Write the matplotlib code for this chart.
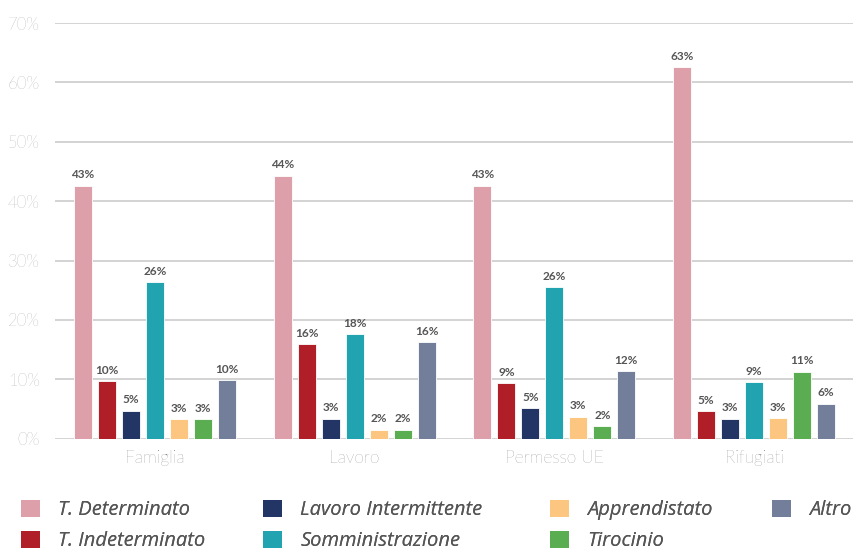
import matplotlib
matplotlib.use("Agg")
import matplotlib.pyplot as plt
import numpy as np
from matplotlib.patches import Patch

categories = ["Famiglia", "Lavoro", "Permesso UE", "Rifugiati"]
series = ["T. Determinato", "T. Indeterminato", "Lavoro Intermittente",
          "Somministrazione", "Apprendistato", "Tirocinio", "Altro"]
t_determinato = [42.6, 44.3, 42.6, 62.6]
t_indeterminato = [9.7, 15.9, 9.4, 4.6]
lavoro_intermittente = [4.7, 3.4, 5.1, 3.4]
somministrazione = [26.4, 17.6, 25.5, 9.5]
apprendistato = [3.3, 1.5, 3.7, 3.5]
tirocinio = [3.3, 1.5, 2.1, 11.3]
altro = [9.9, 16.2, 11.4, 5.9]
labels_text = [
    ["43%", "44%", "43%", "63%"],
    ["10%", "16%", "9%", "5%"],
    ["5%", "3%", "5%", "3%"],
    ["26%", "18%", "26%", "9%"],
    ["3%", "2%", "3%", "3%"],
    ["3%", "2%", "2%", "11%"],
    ["10%", "16%", "12%", "6%"],
]
values = [t_determinato, t_indeterminato, lavoro_intermittente,
          somministrazione, apprendistato, tirocinio, altro]
colors = ["#DDA0AA", "#B01F27", "#233564", "#22A3B0", "#FCC580", "#5AAE51", "#737F9A"]
yticks = [0, 10, 20, 30, 40, 50, 60, 70]

plt.rcParams['font.family'] = ['Lato', 'DejaVu Sans']

fig = plt.figure(figsize=(8.54, 5.5), dpi=100)
ax = fig.add_axes([55/854, 1-438.7/550, 799/854, (438.7-23)/550])

x = np.arange(len(categories))
step = 0.12
width = 0.09
for i, (vals, col) in enumerate(zip(values, colors)):
    pos = x + (i - 3) * step
    bars = ax.bar(pos, vals, width=width, color=col, edgecolor='white', linewidth=0.6, zorder=3)
    for b, lab in zip(bars, labels_text[i]):
        ax.text(b.get_x() + b.get_width()/2, b.get_height() + 0.9, lab,
                ha='center', va='bottom', fontsize=8.5, fontweight='bold', color='#555555')

ax.set_xlim(-0.5, 3.5)
ax.set_ylim(0, 70)
ax.set_yticks(yticks)
ax.set_yticklabels([f"{v}%" for v in yticks], fontsize=12, color='#888888', fontweight='light')
ax.set_xticks(x)
ax.set_xticklabels(categories, fontsize=12.5, color='#666666', fontweight='light')
ax.grid(axis='y', color='#c8c8c8', linewidth=1.1, zorder=0)
for s in ax.spines.values():
    s.set_visible(False)
ax.tick_params(axis='y', length=0, pad=11)
ax.tick_params(axis='x', length=0, pad=8)

handles = [Patch(facecolor=c, edgecolor='none') for c in colors]
blank = Patch(facecolor='none', edgecolor='none')
col_groups = [[0, 1], [2, 3], [4, 5], [6]]
col_x = [21, 263, 550, 772]
legprop = {'family': ['Open Sans', 'DejaVu Sans'], 'style': 'italic', 'size': 14.5}
for grp, cx in zip(col_groups, col_x):
    hs = [handles[k] for k in grp]
    ls = [series[k] for k in grp]
    if len(grp) == 1:
        hs.append(blank)
        ls.append(" ")
    leg = fig.legend(hs, ls,
                     loc='center left', bbox_to_anchor=(cx/854, 1 - 525.5/550),
                     frameon=False, prop=legprop, labelcolor='#555555',
                     handlelength=0.95, handleheight=0.95, handletextpad=0.9,
                     labelspacing=0.5, borderpad=0, borderaxespad=0)
    fig.add_artist(leg)

fig.savefig("out.png", dpi=100)
